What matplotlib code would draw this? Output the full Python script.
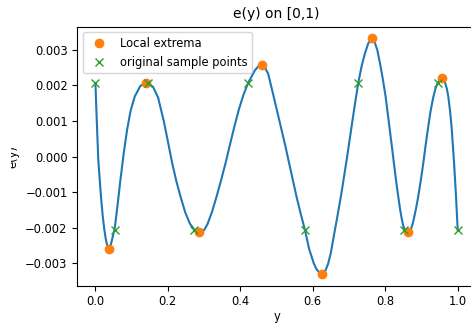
import matplotlib
matplotlib.use("Agg")
import matplotlib.pyplot as plt
from matplotlib.transforms import Bbox

plt.rcParams['font.size'] = 8.3

# curve e(y)
curve_y = [0.0, 0.004, 0.008, 0.012, 0.016, 0.020, 0.0245, 0.029, 0.033, 0.0368,
           0.041, 0.045, 0.049, 0.0533, 0.061, 0.069, 0.078, 0.0874, 0.097, 0.1086,
           0.1243, 0.1409, 0.1453, 0.159, 0.173, 0.1887, 0.200, 0.2116, 0.2236, 0.2356,
           0.248, 0.2605, 0.2724, 0.2873, 0.300, 0.3094, 0.322, 0.3343, 0.3465, 0.3591,
           0.372, 0.384, 0.3959, 0.4085, 0.4215, 0.440, 0.450, 0.4586, 0.467, 0.4768,
           0.4906, 0.502, 0.5138, 0.5245, 0.5348, 0.545, 0.5552, 0.5665, 0.578, 0.590,
           0.603, 0.6105, 0.618, 0.626, 0.634, 0.6425, 0.650, 0.6583, 0.668, 0.6796,
           0.6934, 0.7072, 0.716, 0.7255, 0.735, 0.744, 0.753, 0.7624, 0.770, 0.778,
           0.7854, 0.793, 0.801, 0.812, 0.818, 0.824, 0.830, 0.836, 0.841, 0.845,
           0.849, 0.8525, 0.857, 0.8636, 0.870, 0.875, 0.879, 0.885, 0.891, 0.898,
           0.905, 0.911, 0.917, 0.925, 0.9326, 0.939, 0.9447, 0.950, 0.9558, 0.961,
           0.965, 0.970, 0.974, 0.979, 0.9834, 0.9898, 0.9953, 1.0]
curve_e = [0.00207, 0.00095, -0.00010, -0.00066, -0.00120, -0.00165, -0.00205, -0.00234, -0.00251, -0.00259,
           -0.00253, -0.00238, -0.00220, -0.00202, -0.00138, -0.00066, 0.00008, 0.00075, 0.00128, 0.00169,
           0.00199, 0.00208, 0.00207, 0.00196, 0.00166, 0.00100, 0.00043, -0.00017, -0.00070, -0.00115,
           -0.00157, -0.00188, -0.00205, -0.00212, -0.00207, -0.00190, -0.00155, -0.00113, -0.00068, -0.00019,
           0.00036, 0.00086, 0.00132, 0.00173, 0.00207, 0.00242, 0.00254, 0.00258, 0.00252, 0.00233,
           0.00175, 0.00126, 0.00075, 0.00029, -0.00019, -0.00066, -0.00113, -0.00160, -0.00205, -0.00260,
           -0.00301, -0.00317, -0.00326, -0.00330, -0.00323, -0.00301, -0.00270, -0.00222, -0.00168, -0.00100,
           -0.00010, 0.00085, 0.00145, 0.00207, 0.00255, 0.00290, 0.00318, 0.00332, 0.00324, 0.00300,
           0.00263, 0.00220, 0.00169, 0.00080, 0.00031, -0.00019, -0.00068, -0.00113, -0.00148, -0.00172,
           -0.00192, -0.00203, -0.00210, -0.00213, -0.00207, -0.00192, -0.00175, -0.00146, -0.00113, -0.00068,
           -0.00019, 0.00028, 0.00072, 0.00127, 0.00167, 0.00192, 0.00207, 0.00216, 0.00221, 0.00217,
           0.00208, 0.00191, 0.00169, 0.00128, 0.00080, -0.00015, -0.00110, -0.00206]

# local extrema
ext_y = [0.0368, 0.1409, 0.2873, 0.4586, 0.626, 0.7624, 0.8636, 0.9558]
ext_e = [-0.00259, 0.00208, -0.00212, 0.00258, -0.0033, 0.00332, -0.00213, 0.00221]

# original sample points
samp_y = [0.0, 0.0533, 0.1453, 0.2724, 0.4215, 0.578, 0.7255, 0.8525, 0.9447, 1.0]
samp_e = [0.00206, -0.00206, 0.00206, -0.00206, 0.00206, -0.00206, 0.00206, -0.00206, 0.00206, -0.00206]

fig = plt.figure(figsize=(4.71, 3.24), dpi=100)
ax = fig.add_axes([0.1641, 0.1182, 0.8461, 0.7994])

ax.plot(curve_y, curve_e)
ax.plot(ext_y, ext_e, 'o', label='Local extrema')
ax.plot(samp_y, samp_e, 'x', label='original sample points')

ax.set_title('e(y) on [0,1)')
ax.set_xlabel('y', labelpad=1)
lbl = ax.set_ylabel('e(y)')
ax.yaxis.set_label_coords(-0.146, 0.5)
# the reference shows this label cut off on its left side
lbl.set_clip_box(Bbox.from_extents(11, 0, 471, 324))
lbl.set_clip_on(True)
ax.legend(loc='upper left')

fig.savefig('out.png', dpi=100)
